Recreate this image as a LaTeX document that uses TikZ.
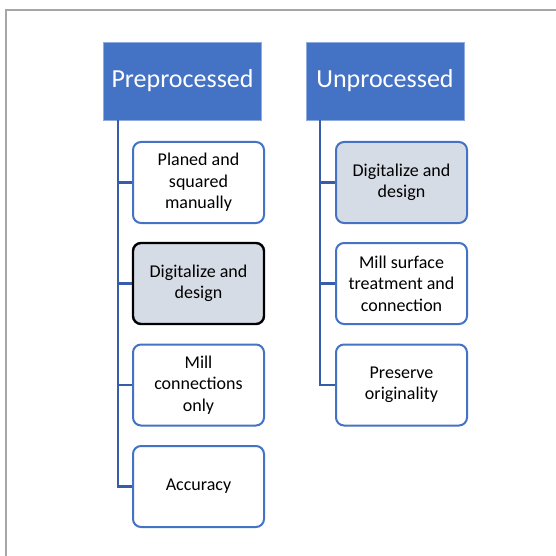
\documentclass[tikz,border=0pt]{standalone}
\usepackage{fontspec}
\setmainfont{Carlito}
\usepackage{xcolor}
\usepackage{tikz}
\usetikzlibrary{
    calc,
    positioning
}

\begin{document}
\begin{tikzpicture}[
    x=1pt, y=-1pt,
    head/.style={
    	fill=my-blue, draw=my-blue!60!white, line width=0.6pt,
    	minimum width=158pt, minimum height=78pt,
    	inner sep=0pt, text=white, font=\fontsize{26}{30}\selectfont
    }, item/.style={
    	draw=my-blue, fill=white, line width=2pt,
    	minimum width=131pt, minimum height=81pt,
    	rounded corners=8pt, inner sep=2pt, align=center,
    	font=\fontsize{18}{21.5}\selectfont
    }, lnk/.style={
    	draw=my-line, line width=2.4pt
    }]
    \definecolor{my-blue}{RGB}{68, 114, 196}
    \definecolor{my-line}{RGB}{54, 92, 170}
    \definecolor{my-gray}{RGB}{214, 220, 229}
    \definecolor{my-frame}{RGB}{166, 166, 166}

    \useasboundingbox (0,0) rectangle (556,556);

    %%% frame
    \draw[my-frame, line width=2pt] (5.5,556) -- (5.5,10.5) -- (556,10.5);

    %%% Preprocessed
    \node[head] (pre) at (182.5,81) {Preprocessed};
    \node[item] (pre-1) at (198.5,182.5) {Planed and\\squared\\manually};
    \node[item, draw=black, fill=my-gray, line width=2.4pt] (pre-2) at (198.5,283.5) {Digitalize and\\design};
    \node[item] (pre-3) at (198.5,385) {Mill\\connections\\only};
    \node[item] (pre-4) at (198.5,486.5) {Accuracy};

    %%% Unprocessed
    \node[head] (unp) at (385,81) {Unprocessed};
    \node[item, fill=my-gray] (unp-1) at (401.5,182.5) {Digitalize and\\design};
    \node[item] (unp-2) at (401.5,283.5) {Mill surface\\treatment and\\connection};
    \node[item] (unp-3) at (401.5,385) {Preserve\\originality};

    %%% EDGES
    \coordinate (pre-trunk) at ($(pre.south west)+(14.5,0)$);
    \coordinate (unp-trunk) at ($(unp.south west)+(14.5,0)$);

    \draw[lnk] (pre-trunk) |- (pre-1.west);
    \draw[lnk] (pre-trunk) |- (pre-2.west);
    \draw[lnk] (pre-trunk) |- (pre-3.west);
    \draw[lnk] (pre-trunk) |- (pre-4.west);

    \draw[lnk] (unp-trunk) |- (unp-1.west);
    \draw[lnk] (unp-trunk) |- (unp-2.west);
    \draw[lnk] (unp-trunk) |- (unp-3.west);
    %%% EDGES

\end{tikzpicture}
\end{document}
